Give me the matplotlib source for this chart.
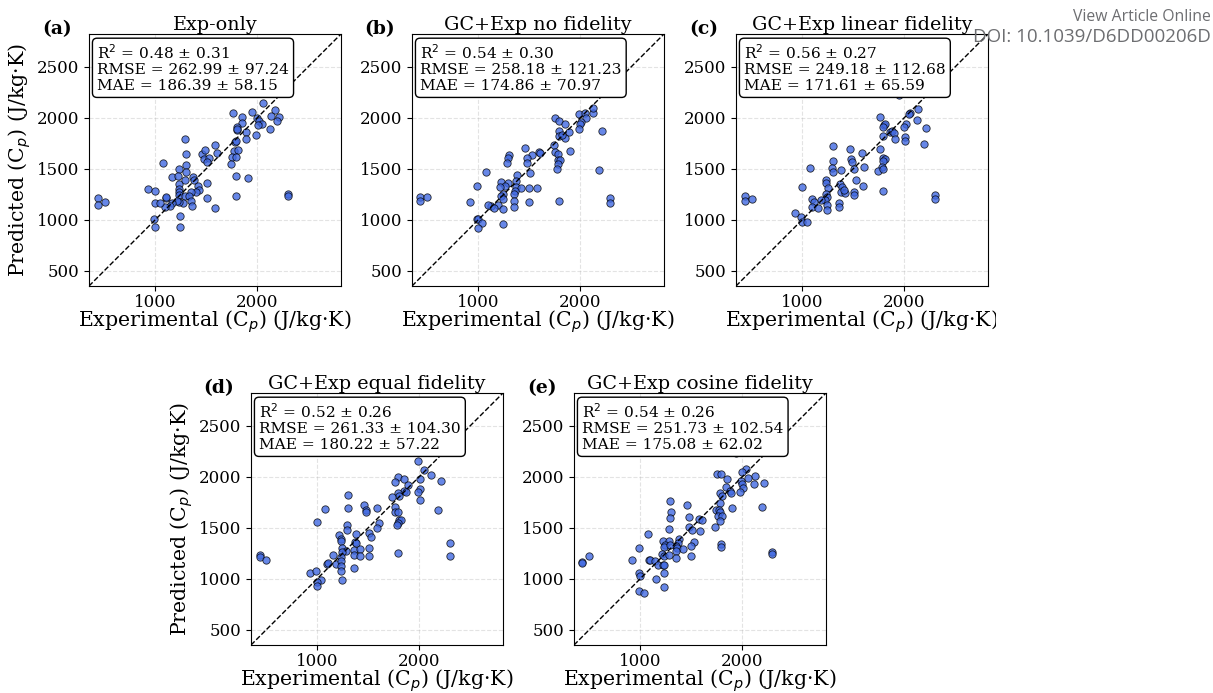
import matplotlib
matplotlib.use("Agg")
import matplotlib.pyplot as plt
from matplotlib.transforms import Bbox, TransformedBbox

plt.rcParams['font.family'] = 'serif'
plt.rcParams['font.serif'] = ['DejaVu Serif']

# experimental vs predicted Cp (J/kg K)
exp_a = [436, 436, 502, 1764, 1849, 1849, 1944, 2052, 2170, 2131, 2216, 2190, 1997, 2016, 2049, 2010,
         2125, 1990, 1892, 1889, 1797, 1797, 1803, 1780, 1787, 1770, 1810, 1751, 1787, 1744, 1793, 1905,
         1790, 2302, 2302, 1292, 1305, 1298, 1079, 1233, 1298, 1459, 1485, 1587, 1603, 1482, 1531, 1508,
         1161, 1223, 1236, 1236, 1236, 1236, 1292, 1367, 1380, 1420, 1433, 1400, 1351, 1502, 1505, 1587,
         1295, 1328, 1354, 1361, 1272, 1229, 1213, 1164, 1141, 1098, 1105, 928, 993, 997, 1043, 1102,
         987, 997, 1246, 1243]
pred_a = [1212, 1146, 1172, 2046, 2003, 1950, 2056, 2139, 2076, 2017, 2003, 1964, 1997, 1967, 1934, 1927,
          1884, 1828, 1858, 1792, 1907, 1878, 1890, 1758, 1768, 1676, 1679, 1619, 1612, 1550, 1427, 1407,
          1235, 1252, 1235, 1792, 1639, 1540, 1553, 1500, 1467, 1642, 1686, 1732, 1652, 1596, 1609, 1566,
          1421, 1427, 1345, 1302, 1272, 1245, 1388, 1414, 1388, 1328, 1295, 1272, 1272, 1355, 1212, 1110,
          1235, 1229, 1179, 1139, 1166, 1172, 1179, 1163, 1139, 1123, 1215, 1305, 1282, 1166, 1166, 1219,
          1004, 924, 1033, 931]

exp_b = [433, 433, 498, 1754, 1793, 1846, 1984, 2049, 2121, 2125, 2052, 2007, 2000, 1987, 2210, 1790,
         1787, 1846, 1892, 1816, 1741, 1751, 1777, 1902, 1780, 1803, 1780, 1774, 2187, 1462, 1590, 1603,
         1528, 1479, 1479, 1505, 1298, 1292, 1282, 1075, 1377, 1370, 1226, 1289, 1262, 1213, 1370, 1416,
         1361, 1348, 1498, 1580, 990, 1243, 1223, 1243, 1197, 1121, 1095, 1151, 1239, 1354, 1354, 1498,
         1790, 921, 2295, 2295, 990, 1000, 1033, 997, 1243]
pred_b = [1219, 1179, 1219, 1993, 1967, 1940, 2036, 2043, 2043, 2096, 1997, 1960, 1940, 1891, 1871, 1868,
          1821, 1798, 1858, 1834, 1729, 1659, 1646, 1676, 1586, 1583, 1547, 1494, 1487, 1705, 1662, 1656,
          1636, 1600, 1560, 1460, 1636, 1603, 1553, 1470, 1434, 1381, 1368, 1358, 1331, 1321, 1321, 1308,
          1278, 1248, 1312, 1308, 1331, 1255, 1229, 1202, 1142, 1136, 1146, 1113, 1106, 1179, 1129, 1176,
          1182, 1169, 1216, 1159, 1010, 1004, 964, 914, 954]

exp_c = [436, 436, 502, 1764, 1797, 1813, 1793, 2056, 2049, 2131, 2125, 2016, 1993, 2216, 1856, 1875,
         1895, 1905, 1790, 2010, 2010, 2190, 1764, 1793, 1810, 1787, 1777, 1744, 1793, 1793, 2302, 2302,
         1305, 1466, 1587, 1482, 1489, 1511, 1607, 1302, 1292, 1298, 1380, 1079, 1230, 1230, 1249, 1367,
         1390, 1380, 1416, 1413, 1531, 1590, 1508, 1508, 997, 1230, 1239, 1223, 1180, 1098, 1111, 1092,
         1157, 1243, 1243, 1357, 1357, 928, 990, 997, 1043, 1951]
pred_c = [1229, 1182, 1205, 2003, 1930, 1937, 1907, 2050, 2036, 2083, 1980, 1940, 1904, 1897, 1858, 1868,
          1848, 1792, 1818, 1815, 1768, 1742, 1692, 1603, 1596, 1576, 1520, 1477, 1500, 1282, 1245, 1202,
          1719, 1692, 1652, 1596, 1563, 1493, 1520, 1580, 1503, 1470, 1490, 1503, 1388, 1361, 1315, 1348,
          1322, 1268, 1262, 1288, 1388, 1331, 1272, 1238, 1322, 1252, 1219, 1192, 1192, 1199, 1176, 1123,
          1113, 1143, 1093, 1166, 1129, 1067, 1023, 973, 973, 2220]

exp_d = [436, 436, 498, 1984, 2049, 2118, 2213, 1790, 1849, 1761, 2010, 2010, 1984, 2007, 1892, 1849,
         1872, 1790, 1797, 1734, 2187, 1764, 1757, 1793, 1800, 1816, 1790, 1780, 1298, 1302, 1462, 1482,
         1482, 1587, 1075, 993, 1295, 1289, 1603, 1587, 1508, 1528, 1377, 1370, 1216, 1230, 1230, 1246,
         1282, 1239, 1361, 1416, 1502, 1380, 1154, 1233, 1357, 1420, 1505, 1790, 2302, 2302, 1095, 1108,
         1180, 1236, 1236, 1236, 1357, 928, 990, 1033, 997, 997, 1243]
pred_d = [1233, 1210, 1184, 2151, 2066, 2016, 1957, 1997, 1980, 1944, 1974, 1882, 1845, 1773, 1921, 1855,
          1852, 1842, 1809, 1803, 1674, 1701, 1655, 1651, 1579, 1572, 1546, 1530, 1819, 1691, 1720, 1678,
          1651, 1697, 1681, 1556, 1523, 1474, 1543, 1500, 1451, 1411, 1434, 1355, 1428, 1391, 1368, 1299,
          1276, 1257, 1283, 1289, 1296, 1349, 1233, 1210, 1237, 1224, 1220, 1253, 1345, 1220, 1145, 1155,
          1141, 1178, 1128, 1072, 1105, 1056, 1072, 987, 967, 931, 990]

exp_e = [426, 426, 495, 1754, 1787, 1846, 2039, 2000, 2125, 2056, 1984, 2000, 2007, 2115, 2210, 1980,
         1843, 1882, 1892, 1784, 1800, 1784, 1898, 2190, 1741, 1774, 1784, 1761, 1803, 1784, 1734, 1790,
         1790, 2295, 2295, 1295, 1298, 1292, 1282, 1456, 1479, 1580, 1600, 1479, 1502, 1584, 1072, 1377,
         1370, 1351, 1364, 1416, 1525, 1498, 1351, 1223, 1282, 1239, 1230, 1292, 990, 1210, 1230, 1285,
         1354, 1498, 1085, 1098, 1144, 1174, 1220, 1230, 921, 984, 997, 1154, 1236, 1236, 990, 1033,
         1941]
pred_e = [1168, 1158, 1220, 2030, 2030, 1980, 2079, 2046, 2010, 1984, 1957, 1931, 1891, 1928, 1941, 1845,
          1898, 1855, 1839, 1836, 1806, 1737, 1694, 1704, 1671, 1678, 1655, 1612, 1615, 1562, 1503, 1342,
          1309, 1266, 1243, 1760, 1651, 1595, 1483, 1720, 1605, 1585, 1572, 1510, 1480, 1467, 1434, 1388,
          1349, 1319, 1299, 1293, 1355, 1319, 1276, 1368, 1368, 1332, 1309, 1326, 1296, 1240, 1227, 1237,
          1201, 1220, 1187, 1181, 1177, 1131, 1135, 1138, 1181, 1056, 1023, 997, 1052, 921, 882, 862,
          2230]

panel_tags = ['(a)', '(b)', '(c)', '(d)', '(e)']
titles = ['Exp-only', 'GC+Exp no fidelity', 'GC+Exp linear fidelity',
          'GC+Exp equal fidelity', 'GC+Exp cosine fidelity']
r2 = [(0.48, 0.31), (0.54, 0.30), (0.56, 0.27), (0.52, 0.26), (0.54, 0.26)]
rmse = [(262.99, 97.24), (258.18, 121.23), (249.18, 112.68), (261.33, 104.30), (251.73, 102.54)]
mae = [(186.39, 58.15), (174.86, 70.97), (171.61, 65.59), (180.22, 57.22), (175.08, 62.02)]

exps = [exp_a, exp_b, exp_c, exp_d, exp_e]
preds = [pred_a, pred_b, pred_c, pred_d, pred_e]

lims = (350, 2820)

W, H = 1213, 693
fig = plt.figure(figsize=(W / 100, H / 100), dpi=100)

# axes boxes in pixels: left, top
boxes = [(89, 34), (412, 34), (736, 34), (251, 393), (574, 393)]
size = 252

for i in range(5):
    left, top = boxes[i]
    ax = fig.add_axes([left / W, 1 - (top + size) / H, size / W, size / H])
    ax.scatter(exps[i], preds[i], s=28, color='royalblue', edgecolor='black',
               linewidth=0.6, alpha=0.8, zorder=3)
    ax.plot(lims, lims, 'k--', lw=1, zorder=4)
    ax.set_xlim(lims)
    ax.set_ylim(lims)
    ax.set_xticks([1000, 2000])
    ax.set_yticks([500, 1000, 1500, 2000, 2500])
    ax.tick_params(labelsize=12)
    ax.tick_params(axis='x', pad=2)
    ax.grid(True, linestyle='--', alpha=0.35, zorder=0)
    ax.set_title(titles[i], fontsize=13.8, pad=3)
    ax.set_xlabel('Experimental (C$_p$) (J/kg·K)', fontsize=14.8, labelpad=-1.5)
    if i in (0, 3):
        ax.set_ylabel('Predicted (C$_p$) (J/kg·K)', fontsize=14.8, labelpad=3)
    ax.text(-0.127, 1.02, panel_tags[i], transform=ax.transAxes, fontsize=13.5,
            fontweight='bold', ha='center', va='center')
    stats = ('R$^2$ = %.2f ± %.2f\nRMSE = %.2f ± %.2f\nMAE = %.2f ± %.2f'
             % (r2[i] + rmse[i] + mae[i]))
    ax.text(0.032, 0.965, stats, transform=ax.transAxes, fontsize=11.1, va='top',
            ha='left', zorder=10, linespacing=1.15,
            bbox=dict(boxstyle='round,pad=0.3', facecolor='white', edgecolor='black'))
    if i == 2:
        # the source figure is cut off at its right edge
        lab = ax.xaxis.label
        lab.set_clip_box(TransformedBbox(Bbox([[0, 0], [996 / W, 1]]), fig.transFigure))
        lab.set_clip_on(True)

fig.text(1211 / W, 1 - 17 / H, 'View Article Online', ha='right', va='center',
         fontsize=11.3, color='#6d6e71', family='Open Sans')
fig.text(1211 / W, 1 - 37 / H, 'DOI: 10.1039/D6DD00206D', ha='right', va='center',
         fontsize=13.5, color='#6d6e71', family='Open Sans')

fig.savefig('out.png', dpi=100)
